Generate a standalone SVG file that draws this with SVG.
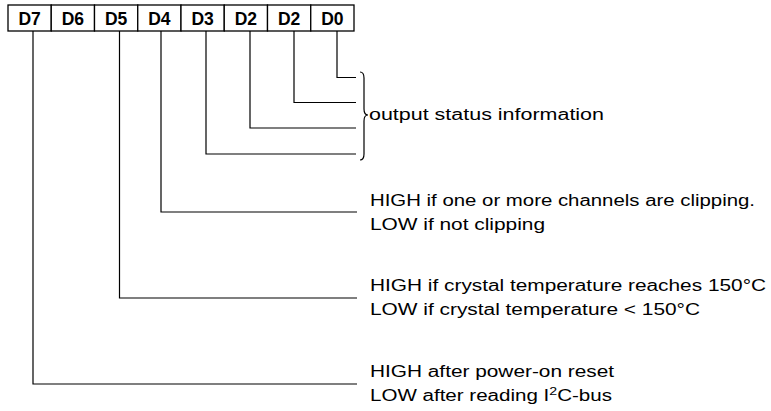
<svg xmlns="http://www.w3.org/2000/svg" width="771" height="411" viewBox="0 0 771 411">
<style>
.cell{fill:#fff;stroke:#000;stroke-width:1.3}
.bit{font-family:"Liberation Sans",Arial,sans-serif;font-weight:bold;font-size:17.5px;fill:#000;text-anchor:middle}
.txt{font-family:"Liberation Sans",Arial,sans-serif;font-size:16px;fill:#000}
.wire{fill:none;stroke:#000;stroke-width:1.2}
</style>
<rect width="771" height="411" fill="#fff"/>
<g id="register">
<rect class="cell" x="8" y="5" width="43.25" height="26"/>
<rect class="cell" x="51.25" y="5" width="43.25" height="26"/>
<rect class="cell" x="94.5" y="5" width="43.25" height="26"/>
<rect class="cell" x="137.75" y="5" width="43.25" height="26"/>
<rect class="cell" x="181" y="5" width="43.25" height="26"/>
<rect class="cell" x="224.25" y="5" width="43.25" height="26"/>
<rect class="cell" x="267.5" y="5" width="43.25" height="26"/>
<rect class="cell" x="310.75" y="5" width="43.25" height="26"/>
<text class="bit" x="29.6" y="24.5">D7</text>
<text class="bit" x="72.9" y="24.5">D6</text>
<text class="bit" x="116.1" y="24.5">D5</text>
<text class="bit" x="159.4" y="24.5">D4</text>
<text class="bit" x="202.6" y="24.5">D3</text>
<text class="bit" x="245.9" y="24.5">D2</text>
<text class="bit" x="289.1" y="24.5">D2</text>
<text class="bit" x="332.4" y="24.5">D0</text>
</g>
<g id="connectors">
<path class="wire" d="M337 31 V77.5 H356"/>
<path class="wire" d="M294 31 V102.5 H356"/>
<path class="wire" d="M250 31 V128 H356"/>
<path class="wire" d="M206 31 V154 H356"/>
<path class="wire" d="M161 31 V212 H357"/>
<path class="wire" d="M119.5 31 V298 H357"/>
<path class="wire" d="M33 31 V384 H357"/>
<path class="wire" d="M360 72 Q364 72 364 78 V109 Q364 115 368 115 Q364 115 364 121 V154 Q364 160 360 160"/>
</g>
<g id="status">
<text class="txt" x="369" y="120" textLength="235" lengthAdjust="spacingAndGlyphs">output status information</text>
</g>
<g id="d4-desc">
<text class="txt" x="370" y="206" textLength="385" lengthAdjust="spacingAndGlyphs">HIGH if one or more channels are clipping.</text>
<text class="txt" x="370" y="230" textLength="175" lengthAdjust="spacingAndGlyphs">LOW if not clipping</text>
</g>
<g id="d5-desc">
<text class="txt" x="370" y="291" textLength="396" lengthAdjust="spacingAndGlyphs">HIGH if crystal temperature reaches 150°C</text>
<text class="txt" x="370" y="315" textLength="330" lengthAdjust="spacingAndGlyphs">LOW if crystal temperature &lt; 150°C</text>
</g>
<g id="d7-desc">
<text class="txt" x="370" y="377" textLength="244" lengthAdjust="spacingAndGlyphs">HIGH after power-on reset</text>
<text class="txt" x="370" y="401" textLength="242" lengthAdjust="spacingAndGlyphs">LOW after reading I<tspan font-size="11" dy="-6">2</tspan><tspan dy="6">C-bus</tspan></text>
</g>
</svg>
